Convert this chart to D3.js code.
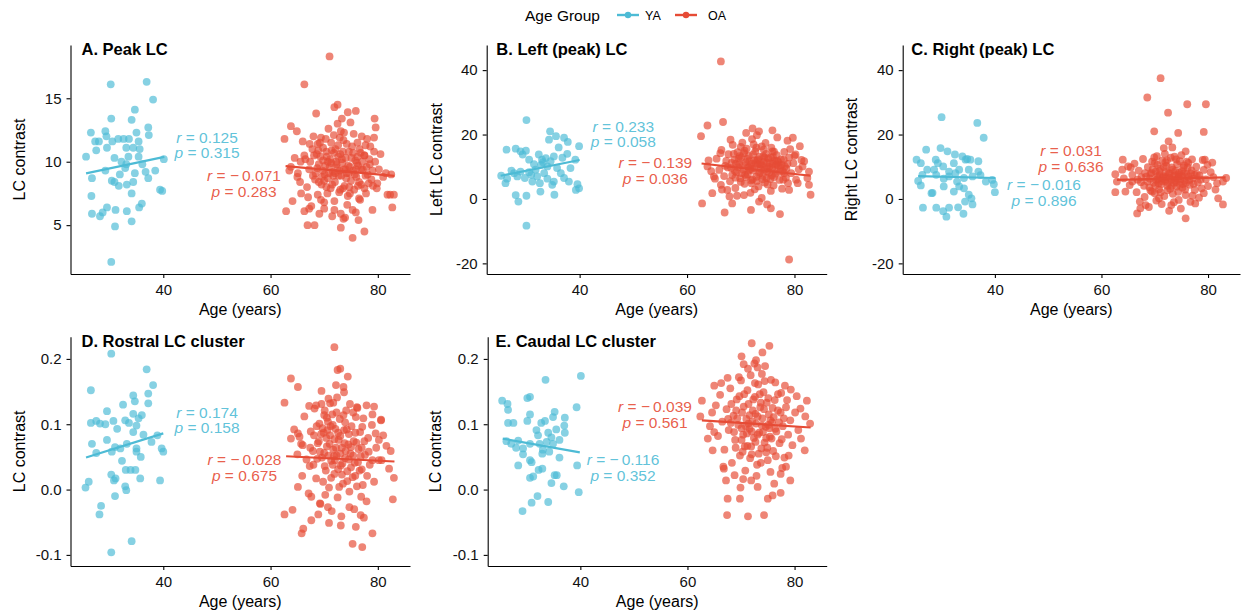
<!DOCTYPE html>
<html>
<head>
<meta charset="utf-8">
<script src="https://cdn.jsdelivr.net/npm/d3@7"></script>
<style>
body { margin: 0; background: #fff; }
svg { display: block; font-family: "Liberation Sans", Arial, sans-serif; }
</style>
</head>
<body>
<div id="chart"></div>
<script>
var groups = ["YA", "OA"];
var x_ticks = [40, 60, 80];
var ticks_a = [5, 10, 15];
var ticks_bc = [-20, 0, 20, 40];
var ticks_de = [-0.1, 0, 0.1, 0.2];

var panel_titles = ["A. Peak LC", "B. Left (peak) LC", "C. Right (peak) LC",
		    "D. Rostral LC cluster", "E. Caudal LC cluster"];
var y_titles = ["LC contrast", "Left LC contrast", "Right LC contrast",
		"LC contrast", "LC contrast"];

// correlation labels, [YA, OA] per panel
var r_vals = [["0.125", "\u2212\u20090.071"], ["0.233", "\u2212\u20090.139"], ["\u2212\u20090.016", "0.031"],
	      ["0.174", "\u2212\u20090.028"], ["\u2212\u20090.116", "\u2212\u20090.039"]];
var p_vals = [["0.315", "0.283"], ["0.058", "0.036"], ["0.896", "0.636"],
	      ["0.158", "0.675"], ["0.352", "0.561"]];

// fitted lines, [[age, y], [age, y]]
var fit_ya = [[[25.6, 9.08], [40.2, 10.38]], [[25.3, 7.2], [40.0, 12.1]], [[25.6, 7.1], [40.1, 6.5]],
	      [[25.6, 0.049], [40.0, 0.086]], [[25.5, 0.078], [39.9, 0.057]]];
var fit_oa = [[[62.8, 9.65], [83.1, 8.88]], [[62.7, 11.0], [83.0, 7.2]], [[62.9, 5.9], [83.3, 6.7]],
	      [[62.9, 0.051], [83.1, 0.043]], [[62.7, 0.106], [83.0, 0.095]]];

// observations [age, value]
var ya_a = [[30.2,16.1],[36.9,16.3],[38.1,14.9],[34.7,14.1],[30.3,13.4],[34.1,13.3],[37.2,12.7],[26.5,12.3],[29.2,12.4],[35.0,12.3],[37.3,12.1],[29.4,12.0],[27.3,11.6],[28.0,11.6],[30.5,11.6],[31.6,11.8],[32.6,11.8],[33.6,11.8],[35.4,11.6],[29.5,11.1],[33.1,11.1],[34.4,11.1],[35.6,11.0],[25.6,10.4],[30.9,10.3],[33.5,10.4],[35.4,10.4],[40.1,10.2],[33.1,9.8],[36.1,9.8],[26.7,8.7],[29.2,9.3],[32.9,9.5],[34.7,9.1],[36.7,9.2],[38.5,9.3],[30.4,8.5],[30.9,8.4],[31.7,8.1],[33.2,8.2],[34.4,8.4],[34.1,7.5],[39.4,7.8],[39.8,7.7],[26.6,7.3],[29.5,6.4],[28.7,6.0],[26.7,5.9],[31.1,6.2],[33.2,6.1],[35.5,6.4],[36.0,6.7],[34.1,5.3],[31.0,4.9],[30.3,2.1],[28.2,5.7],[37.2,8.7],[32.2,10.0],[27.5,10.9],[31.9,9.0]];
var oa_a = [[71.0,18.3],[66.3,16.1],[72.5,14.5],[71.9,14.3],[68.5,13.8],[74.4,13.9],[75.9,14.0],[73.3,13.4],[79.4,13.4],[63.8,12.8],[64.9,12.4],[62.6,11.8],[79.6,12.7],[79.3,11.9],[73.7,12.3],[69.4,11.9],[68.8,11.4],[76.2,11.5],[77.7,11.3],[79.3,10.8],[77.5,10.5],[66.3,10.5],[65.6,10.0],[79.0,9.3],[63.5,9.3],[65.1,9.1],[79.9,8.3],[82.3,7.4],[83.0,7.4],[65.7,7.5],[64.1,6.9],[62.9,6.1],[66.3,6.1],[67.2,6.3],[66.9,5.0],[68.2,5.0],[71.9,6.2],[73.1,5.9],[73.6,5.5],[75.3,6.2],[73.1,4.8],[75.3,4.0],[77.5,4.5],[79.0,6.2],[82.7,6.4],[70.0,6.8],[68.8,7.4],[76.5,7.1],[77.5,7.9],
	    [66.5,10.2],[67.2,9.4],[67.8,11.0],[68.3,8.6],[68.6,10.6],[69.0,9.8],[69.2,11.5],[69.5,8.2],[69.8,10.1],[70.1,9.0],[70.3,11.8],[70.5,10.4],[70.7,8.7],[71.0,9.6],[71.2,7.9],[71.4,10.9],[71.6,9.2],[71.8,12.1],[72.0,8.4],[72.2,10.0],[72.4,9.5],[72.6,11.3],[72.8,7.6],[73.0,10.6],[73.2,8.9],[73.4,9.9],[73.6,11.7],[73.8,8.1],[74.0,10.3],[74.2,9.1],[74.4,7.3],[74.6,10.8],[74.8,9.6],[75.0,8.5],[75.2,11.2],[75.4,9.3],[75.6,7.8],[75.8,10.1],[76.0,8.8],[76.3,9.7],[76.6,11.0],[76.9,8.2],[77.2,9.4],[77.5,10.5],[77.8,7.5],[78.1,9.0],[78.4,10.2],[78.8,8.6],[67.0,7.2],[68.0,12.0],[69.4,7.0],[70.8,12.6],[71.9,6.9],[73.1,12.4],[74.3,6.6],[75.5,12.2],[76.7,7.0],[65.5,8.4],[66.0,11.6],[70.0,6.3],[72.5,13.0],[74.9,13.1],[77.0,12.0],[79.5,10.0],[80.2,9.4],[81.0,8.8],[81.5,9.1],[82.5,9.0],[63.8,9.6],[64.5,10.3],[65.0,8.8],[69.7,9.3],[71.3,9.9],[72.9,9.3],[74.5,9.7],[76.1,9.9],[77.7,8.9],[68.9,10.9],[70.6,7.5],[73.5,7.9],[75.9,6.0],[78.6,11.2],[79.8,7.9],[66.8,8.0],[67.6,6.5],[73.9,5.6],[76.4,5.4],[71.5,5.7],[69.1,5.9],[68.4,9.1],[70.4,8.0],[72.1,11.0],[74.7,8.0],[76.8,10.7],[78.0,11.8],[79.1,8.1],[80.5,10.6],[81.8,7.4],
	    [67.4,10.0],[67.9,8.9],[68.7,9.5],[69.3,10.4],[69.6,8.8],[70.2,9.7],[70.4,10.8],[70.9,9.1],[71.1,10.2],[71.7,8.9],[71.8,10.7],[72.3,9.8],[72.7,8.9],[73.3,10.2],[73.7,9.4],[74.1,8.7],[74.6,9.1],[75.1,10.3],[75.7,9.0],[76.2,10.4],[76.5,8.4],[77.1,10.0],[77.9,9.6],[78.3,8.3],[68.1,10.5],[69.8,11.1],[71.3,11.5],[72.9,11.9],[74.2,11.4],[75.4,10.7],[70.0,8.5],[71.5,8.2],[73.0,7.8],[74.8,7.5],[76.3,8.1],[72.0,9.1],[73.5,10.8],[70.7,10.0],[74.0,9.4],[75.9,9.4],[69.0,8.4],[72.6,10.4],[76.9,9.4],[78.5,9.8],[67.3,11.4]];

var ya_b = [[30.1,24.5],[34.5,21.0],[35.6,19.5],[34.3,18.4],[37.1,19.0],[37.8,17.7],[36.1,16.0],[39.9,16.4],[26.4,15.3],[28.1,15.6],[29.0,14.8],[29.4,13.8],[30.6,12.2],[32.4,13.8],[33.0,12.2],[33.7,12.7],[34.6,11.7],[35.2,13.2],[37.7,14.0],[39.2,12.2],[31.5,10.8],[32.8,10.6],[34.0,10.1],[35.8,9.6],[38.3,9.6],[27.3,8.8],[29.0,8.5],[30.6,8.3],[31.8,9.1],[25.4,7.2],[26.5,6.3],[26.2,4.9],[28.4,7.0],[29.8,6.5],[31.0,7.5],[32.1,7.0],[33.4,8.0],[34.0,6.3],[32.6,4.9],[35.2,5.4],[37.1,6.5],[38.0,5.4],[39.6,4.6],[39.9,3.3],[39.3,2.8],[28.1,1.2],[28.6,-0.8],[30.1,1.0],[32.7,2.3],[35.3,1.3],[30.1,-8.3],[27.8,8.0],[34.9,4.4],[31.2,5.4],[36.5,8.0],[33.2,11.4],[30.0,15.0],[36.8,12.8]];
var oa_b = [[66.3,42.7],[66.7,23.9],[63.8,22.8],[62.6,19.5],[72.2,21.9],[73.4,21.0],[75.9,21.3],[78.7,18.1],[79.7,19.0],[75.9,14.8],[80.2,13.8],[81.8,11.7],[82.7,8.5],[82.4,6.5],[83.0,1.3],[82.7,4.4],[62.8,-1.4],[64.7,1.8],[67.0,-4.2],[68.4,-1.4],[70.6,1.2],[73.4,-0.8],[74.9,-1.7],[75.6,-2.9],[77.3,-4.7],[79.0,-18.8],[71.9,-3.4],[63.8,10.1],[65.0,7.0],[66.3,4.4],[67.5,2.8],[79.0,2.8],[80.6,4.9],[81.5,10.1],[78.1,8.0],
	    [65.5,12.5],[66.0,9.0],[66.4,15.2],[66.9,7.1],[67.3,11.8],[67.7,13.9],[68.0,5.5],[68.2,9.6],[68.5,16.8],[68.8,12.2],[69.0,3.4],[69.2,8.3],[69.4,14.5],[69.7,10.8],[69.9,6.4],[70.1,12.9],[70.3,17.5],[70.5,9.1],[70.7,4.7],[70.9,11.4],[71.1,15.6],[71.3,7.6],[71.5,13.4],[71.7,10.2],[71.9,5.8],[72.1,18.6],[72.3,8.8],[72.5,12.0],[72.7,14.8],[72.9,6.9],[73.1,10.7],[73.3,3.9],[73.5,13.1],[73.7,9.4],[73.9,16.3],[74.1,7.2],[74.3,11.6],[74.5,5.1],[74.7,14.0],[74.9,8.5],[75.1,12.6],[75.3,10.0],[75.5,6.2],[75.7,15.9],[75.9,9.7],[76.1,4.2],[76.3,11.9],[76.5,7.9],[76.7,13.6],[76.9,10.4],[77.2,5.9],[77.5,12.3],[77.8,8.7],[78.1,14.6],[78.4,6.6],[78.7,10.9],[79.0,12.9],[79.4,8.0],[79.8,11.1],[80.3,6.0],[80.8,9.2],[81.3,12.1],[67.1,10.3],[68.4,7.4],[69.6,12.5],[70.6,14.2],[71.4,9.9],[72.2,6.1],[72.8,11.1],[73.6,8.1],[74.4,12.8],[75.0,9.5],[75.8,7.3],[76.6,10.7],[77.4,9.9],[78.2,10.1],[69.1,11.0],[70.2,8.0],[71.6,11.7],[73.2,12.3],[74.0,10.4],[74.8,6.5],[76.0,13.0],[77.0,11.4],[70.0,16.2],[72.4,16.9],[74.6,17.4],[73.0,19.8],[71.0,20.5],[76.8,19.1],[68.1,18.4],[66.5,2.9],[67.9,0.8],[71.8,1.9],[73.9,0.3],[75.6,2.5],[77.7,3.2],[69.3,1.0],[72.6,3.0],[78.8,4.9],[65.2,6.3],[66.2,14.2],[79.2,15.5],[80.0,13.4],[81.0,16.4],[64.0,12.0],[64.5,8.6],
	    [67.6,9.8],[68.3,11.2],[68.9,8.7],[69.5,9.9],[69.8,13.3],[70.4,10.5],[70.8,7.5],[71.2,12.4],[71.5,8.9],[72.0,10.9],[72.3,13.8],[72.6,9.6],[73.0,11.9],[73.4,7.8],[73.8,10.6],[74.2,13.2],[74.5,9.2],[74.9,11.3],[75.3,8.2],[75.6,12.9],[76.0,10.9],[76.4,9.0],[76.8,11.8],[77.3,8.4],[77.6,10.6],[78.0,12.2],[78.5,9.4],[69.0,6.6],[70.0,5.3],[71.0,6.8],[72.0,4.9],[73.0,5.6],[74.0,6.1],[75.0,4.5],[76.2,6.8],[77.9,6.0],[70.7,15.0],[72.9,15.9],[74.3,15.3],[76.2,14.7],[68.7,14.0],[73.6,11.0],[71.8,9.3],[75.4,11.0]];

var ya_c = [[30.0,25.4],[36.7,23.6],[37.9,19.0],[27.1,15.3],[29.8,15.8],[31.1,14.8],[32.5,13.8],[33.9,13.2],[34.5,12.2],[25.3,12.2],[26.1,11.1],[28.9,12.2],[29.3,11.1],[30.3,10.1],[32.3,11.1],[35.4,12.2],[36.9,11.7],[27.3,9.1],[28.6,9.1],[31.4,8.5],[32.6,8.0],[33.3,9.1],[35.1,9.1],[36.9,8.5],[26.4,7.5],[29.0,7.5],[31.4,7.0],[34.2,6.5],[35.8,7.0],[38.3,5.4],[39.5,5.9],[26.1,4.2],[28.1,1.8],[30.4,3.9],[32.3,2.3],[33.3,3.9],[34.2,3.3],[35.1,1.3],[35.6,0.2],[34.4,-0.8],[35.8,-1.7],[39.8,4.6],[40.0,2.1],[26.5,-2.7],[29.0,-2.7],[30.3,-3.8],[30.9,-5.5],[31.4,-2.7],[33.1,-2.6],[34.1,-4.6],[30.4,6.3],[32.9,5.4],[25.6,5.6],[34.8,12.4],[28.3,1.9],[37.3,7.4]];
var oa_c = [[71.1,37.5],[68.6,31.5],[76.1,29.4],[79.6,29.4],[72.5,26.8],[79.2,20.8],[69.9,21.0],[74.4,20.5],[72.6,17.9],[71.7,15.8],[75.8,14.8],[79.4,12.2],[79.9,10.6],[63.9,9.1],[62.6,7.7],[62.9,5.4],[64.5,2.3],[62.6,2.1],[66.7,-4.5],[67.3,-2.9],[68.3,-1.9],[75.8,-6.0],[77.6,-1.4],[79.2,1.8],[81.9,0.2],[82.8,-1.7],[81.7,4.9],[82.8,5.4],[83.4,6.5],[73.1,-1.9],[74.5,-0.3],[70.8,0.2],[69.5,2.3],[65.8,5.4],[65.5,9.8],
	    [65.3,4.3],[65.8,7.5],[66.2,11.0],[66.6,2.1],[67.0,8.8],[67.4,5.2],[67.8,12.4],[68.1,0.6],[68.4,6.9],[68.7,9.9],[69.0,3.6],[69.2,7.8],[69.5,11.6],[69.8,5.0],[70.0,1.8],[70.2,8.5],[70.4,13.3],[70.6,6.2],[70.8,3.0],[71.0,9.4],[71.2,4.6],[71.4,11.9],[71.6,7.1],[71.8,0.9],[72.0,5.6],[72.2,10.3],[72.4,2.7],[72.6,8.0],[72.8,6.5],[73.0,12.8],[73.2,4.0],[73.4,9.1],[73.6,-1.0],[73.8,7.4],[74.0,5.3],[74.2,10.8],[74.4,2.2],[74.6,8.2],[74.8,6.0],[75.0,13.6],[75.2,3.5],[75.4,9.7],[75.6,5.7],[75.8,1.2],[76.0,7.7],[76.3,11.2],[76.6,4.4],[76.9,8.9],[77.2,6.4],[77.5,2.8],[77.8,10.0],[78.1,5.1],[78.4,7.2],[78.8,3.3],[79.2,9.0],[79.6,6.1],[80.0,4.0],[80.5,8.3],[81.0,6.8],[66.8,6.0],[68.0,4.1],[69.4,8.1],[70.5,10.6],[71.5,6.7],[72.5,5.0],[73.5,7.0],[74.5,6.9],[75.5,7.9],[76.5,5.9],[77.5,7.5],[70.9,7.3],[72.1,8.3],[73.1,6.0],[74.1,3.8],[75.1,8.6],[76.2,9.8],[71.9,14.0],[73.7,13.1],[69.9,12.9],[77.0,12.3],[68.9,-2.5],[71.3,-1.6],[74.9,-3.0],[76.7,-0.9],[72.7,-3.7],[70.3,-0.5],[78.3,0.4],[67.2,-0.8],[65.0,10.1],[64.2,6.4],[64.0,12.2],[80.8,11.3],[81.4,2.9],[79.0,12.1],[73.3,16.0],[74.7,11.7],[70.7,4.9],[72.3,12.0],[75.3,4.7],
	    [67.5,6.8],[68.2,8.0],[68.6,5.4],[69.1,6.3],[69.6,9.2],[70.1,4.1],[70.5,7.1],[70.9,8.6],[71.3,5.5],[71.7,9.9],[72.1,6.8],[72.4,4.1],[72.8,7.9],[73.2,9.8],[73.6,5.0],[73.9,8.7],[74.3,6.3],[74.7,4.4],[75.1,7.1],[75.5,10.4],[75.9,5.1],[76.3,6.9],[76.8,7.9],[77.3,4.7],[77.9,7.8],[78.6,6.0],[70.0,11.1],[72.0,11.4],[74.0,12.3],[76.0,11.6],[69.2,2.6],[71.1,2.1],[73.4,1.6],[75.7,2.9],[77.1,1.0],[72.9,3.2],[74.5,7.6],[71.8,6.2],[70.3,6.0],[73.8,5.9]];

var ya_d = [[30.3,0.208],[36.9,0.184],[38.1,0.160],[26.5,0.152],[34.4,0.144],[37.2,0.147],[34.7,0.135],[32.5,0.130],[37.2,0.132],[29.5,0.120],[34.4,0.116],[36.0,0.114],[35.4,0.109],[33.6,0.102],[35.0,0.098],[26.5,0.102],[27.5,0.105],[28.2,0.101],[29.2,0.100],[30.7,0.105],[32.9,0.106],[31.4,0.093],[34.4,0.088],[26.7,0.070],[29.5,0.076],[31.0,0.065],[33.2,0.070],[35.0,0.063],[37.8,0.073],[39.7,0.063],[40.0,0.058],[27.5,0.056],[32.3,0.044],[30.4,0.058],[35.0,0.058],[33.0,0.030],[33.9,0.030],[34.8,0.030],[35.7,0.017],[30.3,0.023],[30.8,0.014],[31.1,0.017],[26.1,0.012],[25.5,0.003],[32.9,0.005],[33.1,-0.001],[31.0,-0.010],[39.4,0.014],[28.4,-0.025],[28.1,-0.038],[34.1,-0.079],[30.3,-0.096],[36.3,0.084],[38.9,0.083],[32.0,0.063],[35.8,0.050]];
var oa_d = [[71.9,0.218],[73.0,0.185],[72.5,0.183],[74.4,0.173],[72.2,0.160],[73.6,0.157],[73.7,0.149],[63.8,0.170],[65.1,0.157],[69.5,0.151],[62.6,0.133],[71.1,0.132],[71.7,0.133],[76.1,0.126],[77.9,0.129],[79.3,0.127],[79.0,0.115],[67.2,0.128],[68.5,0.129],[70.0,0.114],[82.4,0.059],[82.1,0.032],[83.0,0.018],[82.8,-0.015],[80.7,0.045],[62.6,-0.038],[64.1,-0.031],[65.8,-0.067],[66.1,-0.060],[67.6,-0.047],[70.9,-0.051],[73.1,-0.055],[75.3,-0.083],[77.1,-0.088],[75.9,-0.057],[79.0,-0.067],[76.8,-0.039],[74.7,-0.027],[70.7,-0.027],[69.2,-0.021],[67.6,-0.011],[65.1,0.004],[65.1,0.086],[63.8,0.078],[65.7,0.070],[77.1,0.096],[79.6,0.086],[80.2,0.076],[80.6,0.106],
	    [65.4,0.081],[65.9,0.021],[66.3,0.112],[66.7,0.046],[67.1,-0.006],[67.5,0.089],[67.9,0.059],[68.2,0.124],[68.5,0.017],[68.8,0.071],[69.1,0.101],[69.3,-0.022],[69.6,0.049],[69.9,0.087],[70.1,0.121],[70.3,0.029],[70.5,0.066],[70.7,0.104],[70.9,0.003],[71.1,0.083],[71.3,0.044],[71.5,0.115],[71.7,0.061],[71.9,0.024],[72.1,0.093],[72.3,0.052],[72.5,-0.012],[72.7,0.076],[72.9,0.108],[73.1,0.037],[73.3,0.064],[73.5,0.009],[73.7,0.091],[73.9,0.048],[74.1,0.121],[74.3,0.028],[74.5,0.069],[74.7,-0.003],[74.9,0.055],[75.1,0.097],[75.3,0.019],[75.5,0.074],[75.7,0.041],[75.9,0.111],[76.1,0.005],[76.4,0.062],[76.7,0.088],[77.0,0.031],[77.3,0.109],[77.6,0.053],[77.9,-0.018],[78.2,0.079],[78.5,0.038],[78.9,0.099],[79.3,0.012],[79.7,0.064],[80.2,0.045],[81.0,0.083],[68.0,0.038],[69.0,0.074],[70.0,0.056],[71.0,0.070],[72.0,0.045],[73.0,0.082],[74.0,0.059],[75.0,0.034],[76.0,0.072],[77.0,0.064],[70.6,0.091],[71.6,0.099],[72.6,0.031],[73.6,0.114],[74.6,0.085],[69.5,0.131],[70.8,0.139],[72.4,0.141],[74.8,0.131],[76.2,0.125],[68.6,0.097],[67.3,0.036],[66.0,0.068],[78.0,0.021],[79.0,0.045],[71.4,-0.033],[73.2,-0.041],[75.6,-0.030],[77.4,-0.043],[68.9,-0.038],[70.2,-0.008],[76.9,-0.011],[65.0,0.054],[64.4,0.092],[80.6,0.107],[81.6,0.067],
	    [67.4,0.064],[68.1,0.083],[68.7,0.047],[69.2,0.058],[69.7,0.094],[70.1,0.036],[70.4,0.079],[70.8,0.052],[71.2,0.097],[71.6,0.038],[71.9,0.077],[72.2,0.064],[72.6,0.087],[73.0,0.055],[73.4,0.040],[73.8,0.071],[74.2,0.092],[74.6,0.046],[75.0,0.065],[75.4,0.052],[75.8,0.087],[76.3,0.042],[76.8,0.051],[77.5,0.074],[78.3,0.058],[69.8,0.012],[71.3,0.018],[72.8,0.004],[74.3,0.013],[75.8,0.021],[77.2,0.007],[70.5,0.110],[72.3,0.118],[73.9,0.103],[75.4,0.118],[71.8,0.051],[73.3,0.023],[69.4,0.085],[76.6,0.029]];

var ya_e = [[33.5,0.168],[40.1,0.174],[30.6,0.142],[30.1,0.140],[25.4,0.136],[26.4,0.131],[26.5,0.122],[39.3,0.126],[30.6,0.115],[35.2,0.119],[37.1,0.110],[26.5,0.102],[27.5,0.102],[30.1,0.105],[32.7,0.102],[33.4,0.105],[34.9,0.111],[37.0,0.098],[34.0,0.087],[35.5,0.092],[37.1,0.087],[31.8,0.091],[26.2,0.074],[27.1,0.070],[28.4,0.075],[29.3,0.063],[30.6,0.070],[32.4,0.070],[33.7,0.073],[34.9,0.070],[36.1,0.076],[29.3,0.054],[30.6,0.045],[30.9,0.042],[32.9,0.055],[34.2,0.058],[36.1,0.049],[28.4,0.037],[32.2,0.030],[32.9,0.032],[35.2,0.022],[30.6,0.018],[31.2,0.020],[34.6,0.010],[36.9,0.005],[39.4,0.037],[39.7,-0.004],[32.0,-0.010],[30.9,-0.020],[34.0,-0.019],[29.2,-0.033],[34.6,0.080],[32.1,0.083],[35.6,0.022],[28.0,0.064],[33.0,0.061]];
var oa_e = [[72.0,0.224],[75.3,0.220],[74.0,0.210],[70.1,0.204],[72.8,0.198],[70.5,0.192],[73.1,0.187],[66.3,0.163],[65.0,0.159],[78.2,0.159],[79.3,0.153],[62.7,0.136],[62.4,0.112],[82.3,0.136],[81.1,0.124],[82.0,0.112],[82.9,0.101],[81.9,0.060],[78.9,0.052],[79.2,0.014],[63.8,0.078],[65.0,0.088],[64.7,0.060],[66.8,0.032],[67.2,0.014],[67.5,-0.014],[67.4,-0.039],[69.8,-0.014],[69.9,0.003],[71.3,-0.041],[74.3,-0.039],[75.0,-0.014],[75.9,-0.009],[77.4,-0.005],[73.1,0.004],[71.9,0.014],[76.2,0.009],[77.4,0.024],[78.4,0.035],
	    [65.3,0.129],[65.7,0.082],[66.1,0.145],[66.5,0.104],[66.9,0.061],[67.3,0.123],[67.7,0.091],[68.0,0.155],[68.3,0.041],[68.6,0.113],[68.9,0.076],[69.2,0.138],[69.5,0.099],[69.8,0.052],[70.0,0.167],[70.2,0.118],[70.4,0.084],[70.6,0.146],[70.8,0.029],[71.0,0.108],[71.2,0.067],[71.4,0.131],[71.6,0.093],[71.8,0.175],[72.0,0.054],[72.2,0.121],[72.4,0.079],[72.6,0.142],[72.8,0.101],[73.0,0.038],[73.2,0.161],[73.4,0.087],[73.6,0.126],[73.8,0.063],[74.0,0.109],[74.2,0.149],[74.4,0.072],[74.6,0.096],[74.8,0.133],[75.0,0.045],[75.2,0.115],[75.4,0.081],[75.6,0.168],[75.8,0.103],[76.0,0.059],[76.3,0.137],[76.6,0.089],[76.9,0.121],[77.2,0.071],[77.5,0.148],[77.8,0.097],[78.1,0.049],[78.4,0.126],[78.8,0.084],[79.2,0.106],[79.6,0.068],[80.1,0.118],[80.7,0.091],[68.1,0.102],[69.1,0.121],[70.1,0.094],[71.1,0.086],[72.1,0.104],[73.1,0.112],[74.1,0.088],[75.1,0.099],[76.1,0.111],[77.1,0.103],[70.7,0.066],[71.7,0.048],[72.7,0.073],[73.7,0.041],[74.7,0.057],[75.7,0.078],[69.6,0.172],[71.3,0.185],[73.9,0.177],[76.4,0.164],[72.5,0.193],[74.5,0.189],[67.5,0.171],[68.8,0.022],[70.4,0.016],[72.9,0.021],[75.5,0.027],[77.7,0.033],[66.7,0.035],[64.6,0.118],[64.2,0.097],[80.4,0.143],[81.2,0.078],
	    [67.6,0.108],[68.2,0.131],[68.7,0.088],[69.3,0.109],[69.7,0.143],[70.1,0.076],[70.5,0.127],[70.9,0.097],[71.2,0.152],[71.6,0.114],[72.0,0.089],[72.3,0.138],[72.7,0.116],[73.1,0.084],[73.5,0.146],[73.9,0.098],[74.3,0.123],[74.7,0.079],[75.1,0.140],[75.5,0.106],[75.9,0.125],[76.4,0.093],[76.9,0.146],[77.4,0.118],[78.0,0.109],[78.6,0.137],[70.3,0.058],[71.9,0.066],[73.3,0.055],[74.9,0.064],[76.5,0.051],[72.6,0.163],[74.4,0.166],[73.7,0.133],[71.4,0.101],[75.3,0.094],[69.0,0.064],[77.6,0.077]];

var ya_pts = [ya_a, ya_b, ya_c, ya_d, ya_e];
var oa_pts = [oa_a, oa_b, oa_c, oa_d, oa_e];

var colors = {YA: "#4DBBD5", OA: "#E64B35"};
var x_dom = [22.7, 86.0];

var fmt_int = function(d) { return String(d); };
var fmt_dec = function(d) { return d.toFixed(1); };

// panel boxes in px; lab = [age, y] of the r line, YA then OA
var layout = [
    {left: 70.5, right: 410, top: 45, bottom: 274, ydom: [1.15, 19.2], ticks: ticks_a, fmt: fmt_int,
     tx: 81.5, ty: 55, yt: 25, lab: [[48.15, 11.48], [55.05, 8.48]]},
    {left: 486.7, right: 826.7, top: 45, bottom: 274, ydom: [-23.3, 47.8], ticks: ticks_bc, fmt: fmt_int,
     tx: 496.3, ty: 55, yt: 441.5, lab: [[48.13, 20.8], [54.09, 9.61]]},
    {left: 902.7, right: 1240, top: 45, bottom: 274, ydom: [-23.3, 47.8], ticks: ticks_bc, fmt: fmt_int,
     tx: 911.3, ty: 55, yt: 857, lab: [[49.22, 2.78], [54.28, 13.33]]},
    {left: 70.5, right: 410, top: 336.7, bottom: 566, ydom: [-0.117, 0.234], ticks: ticks_de, fmt: fmt_dec,
     tx: 81.5, ty: 347, yt: 25, lab: [[48.15, 0.1096], [55.14, 0.0376]]},
    {left: 487.7, right: 826.7, top: 336.7, bottom: 566, ydom: [-0.117, 0.234], ticks: ticks_de, fmt: fmt_dec,
     tx: 495.5, ty: 347, yt: 440.5, lab: [[47.96, 0.0376], [53.94, 0.1187]]}
];

var svg = d3.select("#chart")
    .append("svg")
    .attr("width", 1241)
    .attr("height", 612);

function style_axis(g) {
    g.select(".domain").attr("stroke", "#000").attr("stroke-width", 1.1);
    g.selectAll(".tick line").attr("stroke", "#000").attr("stroke-width", 1.1);
    g.selectAll(".tick text")
	.attr("fill", "#111")
	.attr("font-size", "15px")
	.attr("font-family", "Liberation Sans, Arial, sans-serif");
}

function draw_panel(i) {
    var L = layout[i];
    var x = d3.scaleLinear().domain(x_dom).range([L.left, L.right]);
    var y = d3.scaleLinear().domain(L.ydom).range([L.bottom, L.top]);
    var g = svg.append("g");

    g.append("g")
	.attr("transform", "translate(0," + L.bottom + ")")
	.call(d3.axisBottom(x).tickValues(x_ticks).tickSize(4).tickSizeOuter(0).tickPadding(6))
	.call(style_axis);

    g.append("g")
	.attr("transform", "translate(" + L.left + ",0)")
	.call(d3.axisLeft(y).tickValues(L.ticks).tickFormat(L.fmt).tickSize(4).tickSizeOuter(0).tickPadding(5))
	.call(style_axis);

    // observations
    var sets = [ya_pts[i], oa_pts[i]];
    groups.forEach(function(grp, k) {
	g.append("g")
	    .selectAll("circle")
	    .data(sets[k])
	    .enter()
	    .append("circle")
	    .attr("cx", function(d) { return x(d[0]); })
	    .attr("cy", function(d) { return y(d[1]); })
	    .attr("r", 3.9)
	    .attr("fill", colors[grp])
	    .attr("fill-opacity", 0.68);
    });

    // regression lines
    var fits = [fit_ya[i], fit_oa[i]];
    groups.forEach(function(grp, k) {
	g.append("line")
	    .attr("x1", x(fits[k][0][0])).attr("y1", y(fits[k][0][1]))
	    .attr("x2", x(fits[k][1][0])).attr("y2", y(fits[k][1][1]))
	    .attr("stroke", colors[grp])
	    .attr("stroke-width", 2.2);
    });

    // r / p labels
    groups.forEach(function(grp, k) {
	var cx = x(L.lab[k][0]), cy = y(L.lab[k][1]);
	var t = g.append("text")
	    .attr("x", cx).attr("y", cy)
	    .attr("text-anchor", "middle")
	    .attr("font-size", "15.5px")
	    .attr("fill", colors[grp])
	    .attr("fill-opacity", 0.9);
	t.append("tspan").attr("font-style", "italic").text("r");
	t.append("tspan").text(" = " + r_vals[i][k]);
	var t2 = g.append("text")
	    .attr("x", cx).attr("y", cy + 15.5)
	    .attr("text-anchor", "middle")
	    .attr("font-size", "15.5px")
	    .attr("fill", colors[grp])
	    .attr("fill-opacity", 0.9);
	t2.append("tspan").attr("font-style", "italic").text("p");
	t2.append("tspan").text(" = " + p_vals[i][k]);
    });

    // titles
    g.append("text")
	.attr("x", L.tx).attr("y", L.ty)
	.attr("font-size", "16.5px")
	.attr("font-weight", "bold")
	.text(panel_titles[i]);

    g.append("text")
	.attr("x", (L.left + L.right) / 2).attr("y", L.bottom + 41)
	.attr("text-anchor", "middle")
	.attr("font-size", "16px")
	.text("Age (years)");

    g.append("text")
	.attr("transform", "translate(" + L.yt + "," + (L.top + L.bottom) / 2 + ") rotate(-90)")
	.attr("text-anchor", "middle")
	.attr("font-size", "16px")
	.text(y_titles[i]);
}

for (var i = 0; i < layout.length; i++) {
    draw_panel(i);
}

// legend
var legend = svg.append("g");
legend.append("text")
    .attr("x", 525).attr("y", 20.5)
    .attr("font-size", "15.5px")
    .text("Age Group");

var key_x = [617, 675];
var lab_x = [645, 708];
groups.forEach(function(grp, k) {
    legend.append("line")
	.attr("x1", key_x[k]).attr("x2", key_x[k] + 22)
	.attr("y1", 15).attr("y2", 15)
	.attr("stroke", colors[grp])
	.attr("stroke-width", 2.4);
    legend.append("circle")
	.attr("cx", key_x[k] + 11).attr("cy", 15)
	.attr("r", 3.2)
	.attr("fill", colors[grp]);
    legend.append("text")
	.attr("x", lab_x[k]).attr("y", 19.5)
	.attr("font-size", "12.5px")
	.text(grp);
});
</script>
</body>
</html>
